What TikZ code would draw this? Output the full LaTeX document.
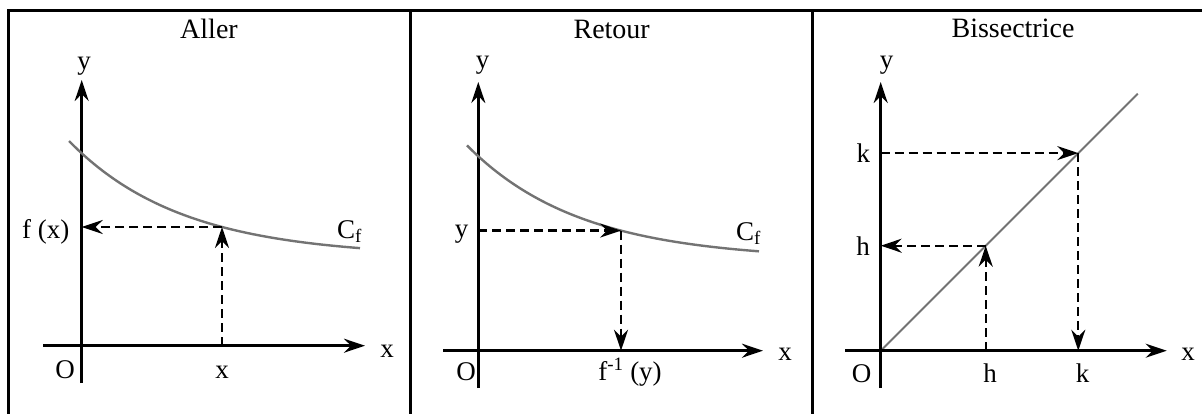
\documentclass[tikz,border=0pt]{standalone}
\usepackage{fontspec}
\setmainfont{Liberation Serif}
\usetikzlibrary{arrows.meta}
\begin{document}
\begin{tikzpicture}[x=1pt,y=-1pt,
  tip/.style={-{Stealth[length=21pt,width=14pt,inset=7pt]}},
  axis/.style={line width=2.6pt,tip},
  darrow/.style={line width=2.3pt,dash pattern=on 9pt off 5pt,tip},
  curve/.style={line width=2.4pt,draw=black!55},
  frame/.style={line width=3pt},
  lbl/.style={font=\fontsize{27}{32}\selectfont,anchor=base,inner sep=0pt},
  ttl/.style={font=\fontsize{28}{33}\selectfont,anchor=base,inner sep=0pt}]
\useasboundingbox (0,0) rectangle (1202,413);
% frame
\coordinate (fa) at (8,420); \coordinate (fb) at (8,10); \coordinate (fc) at (1210,10);
\coordinate (d1t) at (410.5,10); \coordinate (d1b) at (410.5,420);
\coordinate (d2t) at (812.5,10); \coordinate (d2b) at (812.5,420);
\draw[frame] (fa) -- (fb) -- (fc);
\draw[frame] (d1t) -- (d1b);
\draw[frame] (d2t) -- (d2b);

% ---------- Panel 1 : Aller
\node[ttl] (t1) at (209,38) {Aller};
\coordinate (y1b) at (81.7,383); \coordinate (y1t) at (81.7,80);
\coordinate (x1l) at (43,345.7); \coordinate (x1r) at (365,345.7);
\draw[axis] (y1b) -- (y1t);
\draw[axis] (x1l) -- (x1r);
\draw[curve] plot[domain=69:360,samples=80] (\x,{257-116*exp(-0.00884*(\x-69))});
\coordinate (P1) at (222,227);
\coordinate (P1x) at (222,345.7);
\coordinate (P1y) at (81.7,227);
\draw[darrow] (P1x) -- (P1);
\draw[darrow] (P1) -- (P1y);
\node[lbl] (ly1) at (84,69) {y};
\node[lbl] (lx1) at (387,357) {x};
\node[lbl] (lO1) at (65,378) {O};
\node[lbl] (lxx1) at (222,378) {x};
\node[lbl] (lf1) at (45.7,238) {f (x)};
\node[lbl,anchor=base west] (lC1) at (337,238) {C\textsubscript{f}};

% ---------- Panel 2 : Retour
\node[ttl] (t2) at (611.7,38) {Retour};
\coordinate (y2b) at (478.3,388); \coordinate (y2t) at (478.3,82);
\coordinate (x2l) at (443.3,350.7); \coordinate (x2r) at (763,350.7);
\draw[axis] (y2b) -- (y2t);
\draw[axis] (x2l) -- (x2r);
\draw[curve] plot[domain=467:759,samples=80] (\x,{260-116*exp(-0.00884*(\x-465.6))});
\coordinate (P2) at (621,230.6);
\coordinate (P2x) at (621,350.7);
\coordinate (P2y) at (478.3,230.6);
\draw[darrow] (P2y) -- (P2);
\draw[darrow] (P2) -- (P2x);
\node[lbl] (ly2) at (482.7,68) {y};
\node[lbl] (lx2) at (785,360) {x};
\node[lbl] (lO2) at (466,380) {O};
\node[lbl] (lyy2) at (461.7,237) {y};
\node[lbl] (lf2) at (630,380) {f\textsuperscript{-1} (y)};
\node[lbl,anchor=base west] (lC2) at (736,240) {C\textsubscript{f}};

% ---------- Panel 3 : Bissectrice
\node[ttl] (t3) at (1013,37.5) {Bissectrice};
\coordinate (O3) at (880.7,350.7);
\coordinate (y3b) at (880.7,388); \coordinate (y3t) at (880.7,82);
\coordinate (x3l) at (845,350.7); \coordinate (x3r) at (1166.7,350.7);
\coordinate (D3) at (1137.7,93.7);
\draw[line width=2pt,draw=black!55] (O3) -- (D3);
\draw[axis] (y3b) -- (y3t);
\draw[axis] (x3l) -- (x3r);
\coordinate (K) at (1078.3,153.1);
\coordinate (Ky) at (880.7,153.1);
\coordinate (Kx) at (1078.3,350.7);
\coordinate (H) at (985.7,245.7);
\coordinate (Hy) at (880.7,245.7);
\coordinate (Hx) at (985.7,350.7);
\draw[darrow] (Ky) -- (K);
\draw[darrow] (K) -- (Kx);
\draw[darrow] (Hx) -- (H);
\draw[darrow] (H) -- (Hy);
\node[lbl] (ly3) at (886.7,68) {y};
\node[lbl] (lx3) at (1188,360) {x};
\node[lbl] (lO3) at (861.7,382) {O};
\node[lbl] (lk3) at (863.3,162) {k};
\node[lbl] (lh3) at (863,255) {h};
\node[lbl] (lhh3) at (990,382) {h};
\node[lbl] (lkk3) at (1082.7,382) {k};
\end{tikzpicture}
\end{document}
